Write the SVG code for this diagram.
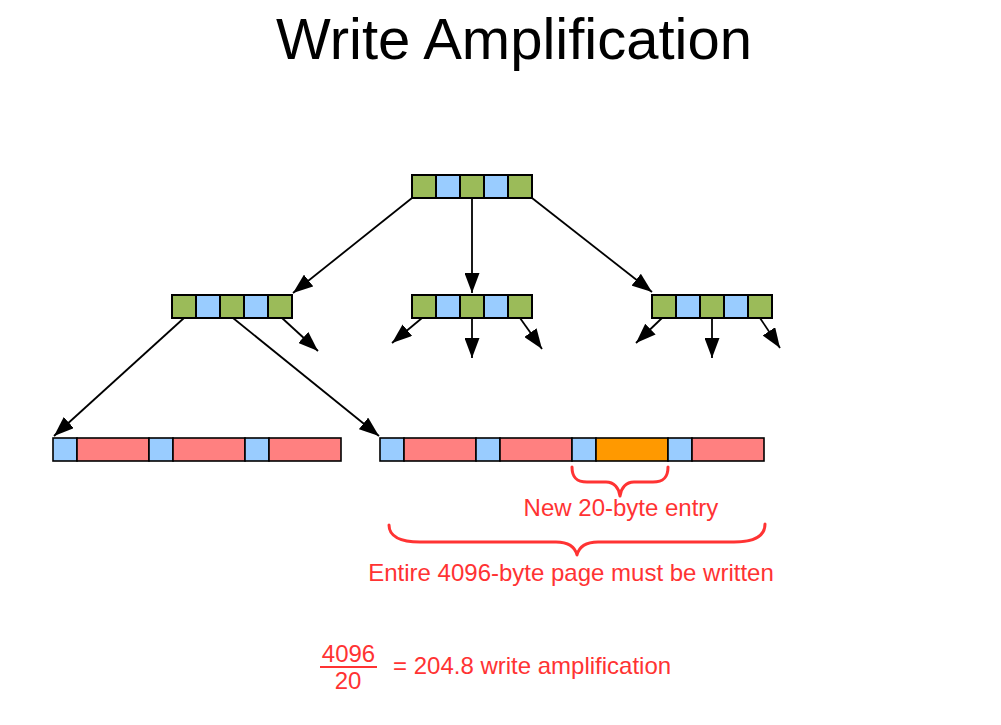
<svg xmlns="http://www.w3.org/2000/svg" width="1001" height="725" viewBox="0 0 1001 725">
<style>
.g{fill:#9bbb59;stroke:#000;stroke-width:2}
.b{fill:#99ccff;stroke:#000;stroke-width:2}
.p{fill:#ff8080;stroke:#000;stroke-width:1.6}
.lb{fill:#99ccff;stroke:#000;stroke-width:1.6}
.o{fill:#ff9900;stroke:#000;stroke-width:1.6}
.c{stroke:#000;stroke-width:1.8;fill:none;marker-end:url(#ah)}
.br{stroke:#ff3333;stroke-width:3;fill:none;stroke-linecap:round;stroke-linejoin:round}
.t{font-family:"Liberation Sans",Arial,sans-serif;fill:#ff3333;font-size:24px}
</style>
<defs>
<marker id="ah" markerUnits="userSpaceOnUse" markerWidth="20" markerHeight="15" refX="20" refY="7.5" orient="auto">
<path d="M0,0 L20,7.5 L0,15 z" fill="#000"/>
</marker>
</defs>
<rect width="1001" height="725" fill="#fff"/>
<text x="514" y="59" text-anchor="middle" style="font-family:'Liberation Sans',Arial,sans-serif;font-size:58px;fill:#000">Write Amplification</text>

<g id="connectors">
<line class="c" x1="412" y1="198" x2="293" y2="293"/>
<line class="c" x1="472" y1="198" x2="472" y2="293"/>
<line class="c" x1="532" y1="198" x2="652" y2="292"/>
<line class="c" x1="184" y1="318" x2="54" y2="436"/>
<line class="c" x1="233" y1="318" x2="379" y2="436"/>
<line class="c" x1="282" y1="318" x2="318" y2="351"/>
<line class="c" x1="422" y1="318" x2="392" y2="343"/>
<line class="c" x1="472" y1="318" x2="472" y2="358"/>
<line class="c" x1="520" y1="318" x2="542" y2="349"/>
<line class="c" x1="662" y1="318" x2="636" y2="343"/>
<line class="c" x1="712" y1="318" x2="712" y2="358"/>
<line class="c" x1="760" y1="318" x2="780" y2="348"/>
</g>

<g id="root">
<rect class="g" x="412" y="175" width="24" height="23"/>
<rect class="b" x="436" y="175" width="24" height="23"/>
<rect class="g" x="460" y="175" width="24" height="23"/>
<rect class="b" x="484" y="175" width="24" height="23"/>
<rect class="g" x="508" y="175" width="24" height="23"/>
</g>
<g id="inner-left">
<rect class="g" x="172" y="295" width="24" height="23"/>
<rect class="b" x="196" y="295" width="24" height="23"/>
<rect class="g" x="220" y="295" width="24" height="23"/>
<rect class="b" x="244" y="295" width="24" height="23"/>
<rect class="g" x="268" y="295" width="24" height="23"/>
</g>
<g id="inner-middle">
<rect class="g" x="412" y="295" width="24" height="23"/>
<rect class="b" x="436" y="295" width="24" height="23"/>
<rect class="g" x="460" y="295" width="24" height="23"/>
<rect class="b" x="484" y="295" width="24" height="23"/>
<rect class="g" x="508" y="295" width="24" height="23"/>
</g>
<g id="inner-right">
<rect class="g" x="652" y="295" width="24" height="23"/>
<rect class="b" x="676" y="295" width="24" height="23"/>
<rect class="g" x="700" y="295" width="24" height="23"/>
<rect class="b" x="724" y="295" width="24" height="23"/>
<rect class="g" x="748" y="295" width="24" height="23"/>
</g>
<g id="leaf-left">
<rect class="lb" x="53" y="438" width="24" height="23"/>
<rect class="p" x="77" y="438" width="72" height="23"/>
<rect class="lb" x="149" y="438" width="24" height="23"/>
<rect class="p" x="173" y="438" width="72" height="23"/>
<rect class="lb" x="245" y="438" width="24" height="23"/>
<rect class="p" x="269" y="438" width="72" height="23"/>
</g>
<g id="leaf-right">
<rect class="lb" x="380" y="438" width="24" height="23"/>
<rect class="p" x="404" y="438" width="72" height="23"/>
<rect class="lb" x="476" y="438" width="24" height="23"/>
<rect class="p" x="500" y="438" width="72" height="23"/>
<rect class="lb" x="572" y="438" width="24" height="23"/>
<rect class="o" x="596" y="438" width="72" height="23"/>
<rect class="lb" x="668" y="438" width="24" height="23"/>
<rect class="p" x="692" y="438" width="72" height="23"/>
</g>

<g id="brace-entry">
<path class="br" d="M572,467 C572,477 576,482 587,482 L606,482 C614,482 619,488 620,496 C621,488 626,482 634,482 L653,482 C664,482 668,477 668,467"/>
<text class="t" x="621" y="516" text-anchor="middle">New 20-byte entry</text>
</g>
<g id="brace-page">
<path class="br" d="M389,525 C389,536 400,542 420,542 L556,542 C568,542 575,547 577,555 C579,547 586,542 598,542 L734,542 C754,542 765,536 765,524"/>
<text class="t" x="571" y="581" text-anchor="middle">Entire 4096-byte page must be written</text>
</g>
<g id="formula">
<text class="t" x="348.5" y="662" text-anchor="middle">4096</text>
<line x1="320" y1="667" x2="377" y2="667" stroke="#ff3333" stroke-width="2"/>
<text class="t" x="348" y="689" text-anchor="middle">20</text>
<text class="t" x="393" y="674">= 204.8 write amplification</text>
</g>
</svg>
